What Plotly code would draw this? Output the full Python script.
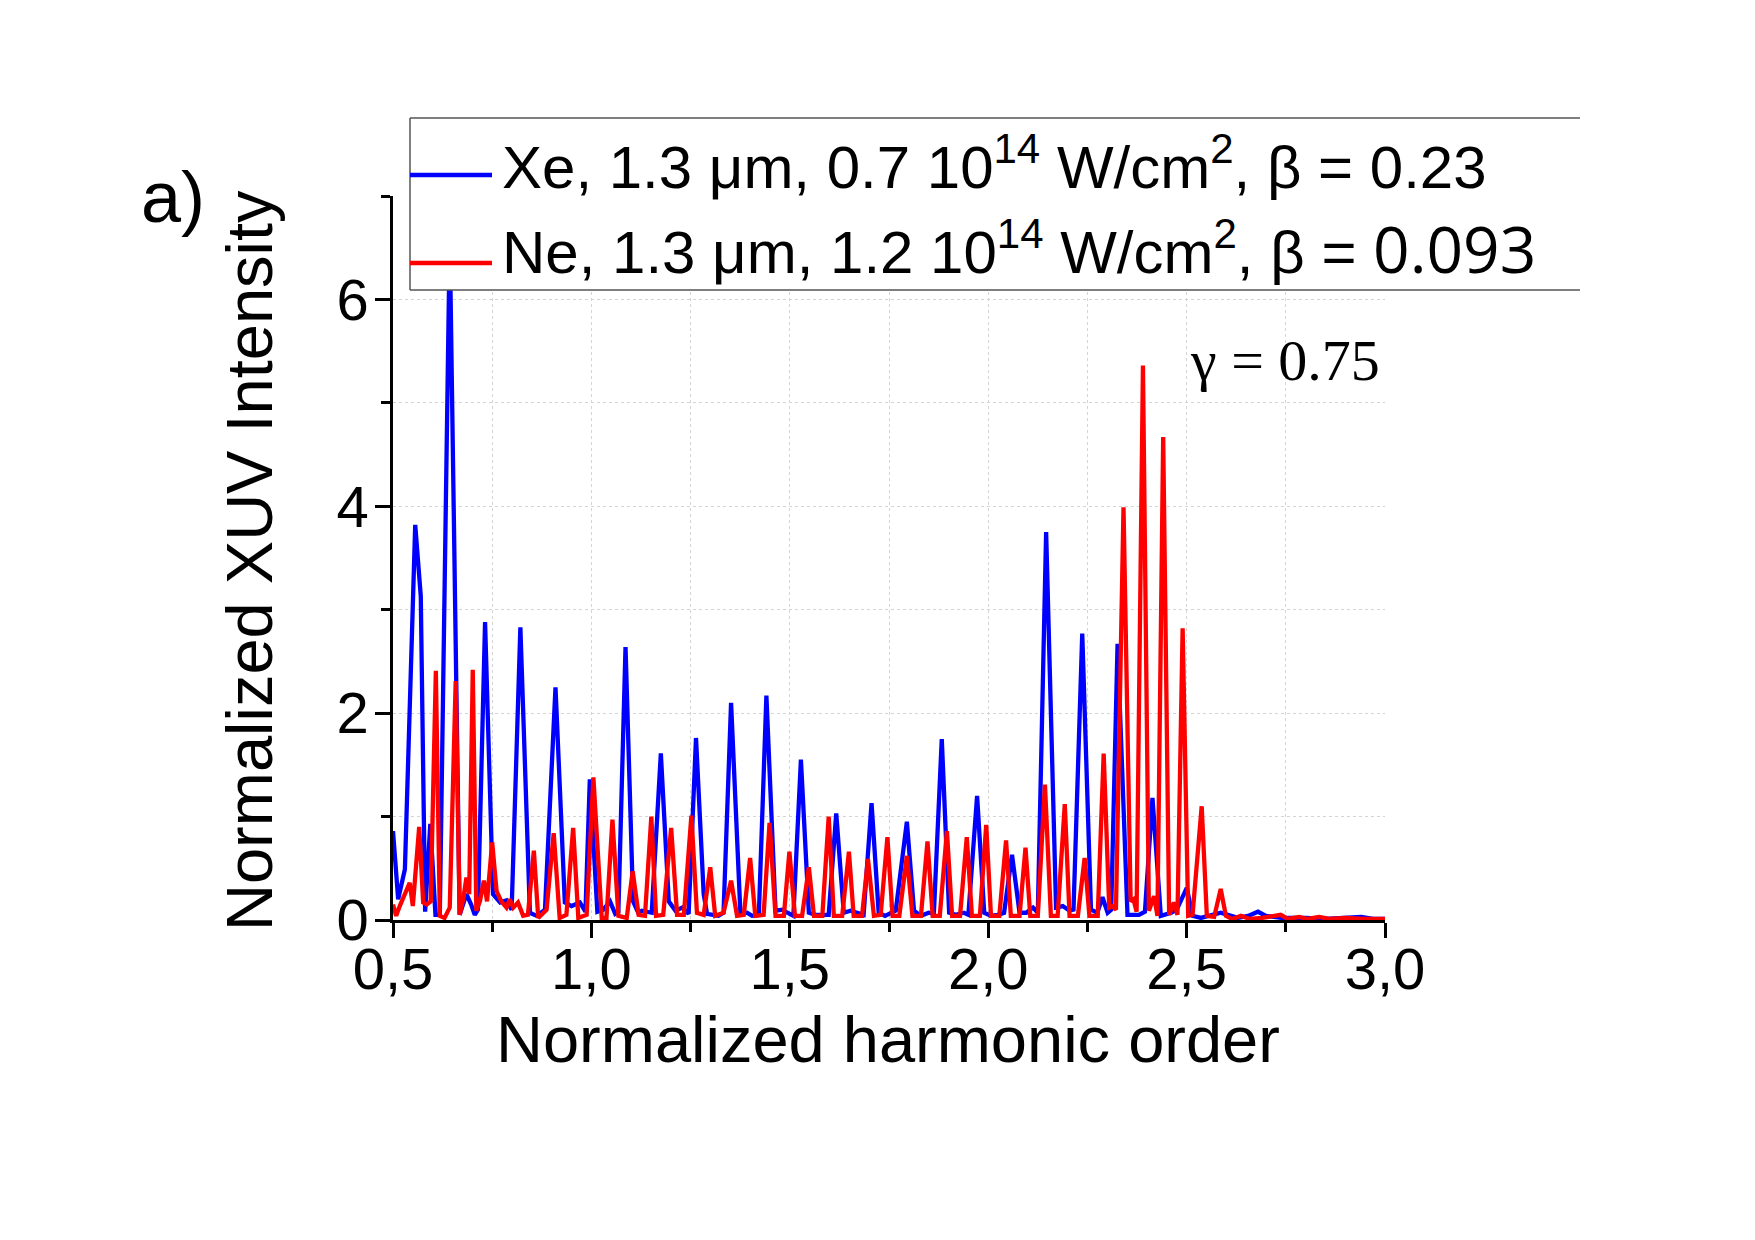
import plotly.graph_objects as go

# ---------------- data ----------------
xe_x = [0.500, 0.513, 0.530, 0.547, 0.556, 0.570, 0.581, 0.594, 0.607, 0.618, 0.643, 0.668, 0.685, 0.697,
        0.706, 0.714, 0.732, 0.752, 0.770, 0.786, 0.799, 0.821, 0.845, 0.862, 0.883, 0.9095, 0.933, 0.950,
        0.971, 0.985, 0.996, 1.015, 1.030, 1.047, 1.060, 1.068, 1.086, 1.105, 1.118, 1.127, 1.152, 1.175,
        1.195, 1.212, 1.229, 1.245, 1.2636, 1.283, 1.2915, 1.320, 1.333, 1.352, 1.3755, 1.392, 1.405, 1.422,
        1.441, 1.464, 1.4817, 1.494, 1.509, 1.528, 1.548, 1.565, 1.577, 1.598, 1.617, 1.636, 1.653, 1.670,
        1.686, 1.706, 1.724, 1.740, 1.767, 1.795, 1.813, 1.8305, 1.850, 1.863, 1.883, 1.9016, 1.918, 1.939,
        1.950, 1.972, 1.990, 2.007, 2.024, 2.040, 2.060, 2.079, 2.096, 2.113, 2.125, 2.146, 2.171, 2.188,
        2.205, 2.215, 2.237, 2.259, 2.275, 2.288, 2.301, 2.310, 2.326, 2.351, 2.380, 2.395, 2.414, 2.435,
        2.461, 2.475, 2.5005, 2.515, 2.536, 2.586, 2.629, 2.655, 2.680, 2.700, 2.740, 2.800, 2.850, 2.940,
        2.970, 3.000]
xe_y = [0.86, 0.20, 0.49, 2.62, 3.82, 3.13, 0.08, 0.93, 0.05, 0.05, 6.60, 0.05, 0.25, 0.15,
        0.05, 0.10, 2.88, 0.25, 0.17, 0.19, 0.10, 2.83, 0.07, 0.04, 0.10, 2.25, 0.17, 0.135,
        0.17, 0.08, 1.36, 0.08, 0.10, 0.18, 0.06, 0.08, 2.64, 0.18, 0.07, 0.09, 0.07, 1.61,
        0.18, 0.09, 0.12, 0.06, 1.76, 0.25, 0.06, 0.04, 0.07, 2.10, 0.07, 0.07, 0.04, 0.05,
        2.17, 0.09, 0.10, 0.07, 0.04, 1.55, 0.07, 0.05, 0.05, 0.05, 1.03, 0.07, 0.09, 0.07,
        0.05, 1.13, 0.07, 0.04, 0.09, 0.95, 0.09, 0.04, 0.07, 0.06, 1.75, 0.07, 0.05, 0.07,
        0.05, 1.20, 0.07, 0.04, 0.05, 0.07, 0.63, 0.07, 0.07, 0.12, 0.07, 3.75, 0.12, 0.135,
        0.09, 0.10, 2.77, 0.10, 0.07, 0.22, 0.07, 0.10, 2.67, 0.05, 0.05, 0.08, 1.18, 0.04,
        0.07, 0.10, 0.31, 0.04, 0.02, 0.07, 0.02, 0.04, 0.08, 0.04, 0.02, 0.02, 0.01, 0.03,
        0.01, 0.01]

ne_x = [0.500, 0.508, 0.517, 0.534, 0.542, 0.550, 0.566, 0.576, 0.585, 0.595, 0.608, 0.618, 0.630, 0.643,
        0.658, 0.668, 0.677, 0.685, 0.692, 0.701, 0.710, 0.719, 0.729, 0.737, 0.750, 0.761, 0.773, 0.786,
        0.794, 0.803, 0.815, 0.828, 0.840, 0.855, 0.866, 0.887, 0.905, 0.920, 0.937, 0.954, 0.967, 0.988,
        1.005, 1.026, 1.038, 1.053, 1.068, 1.089, 1.104, 1.119, 1.135, 1.151, 1.163, 1.181, 1.201, 1.216,
        1.233, 1.252, 1.266, 1.283, 1.2995, 1.312, 1.333, 1.352, 1.367, 1.384, 1.400, 1.413, 1.434, 1.449,
        1.464, 1.485, 1.499, 1.513, 1.531, 1.548, 1.561, 1.582, 1.598, 1.611, 1.632, 1.649, 1.661, 1.682,
        1.697, 1.712, 1.729, 1.746, 1.759, 1.776, 1.795, 1.809, 1.8305, 1.847, 1.860, 1.878, 1.896, 1.909,
        1.929, 1.946, 1.959, 1.979, 1.995, 2.007, 2.028, 2.045, 2.057, 2.079, 2.094, 2.106, 2.125, 2.143,
        2.158, 2.175, 2.193, 2.205, 2.226, 2.243, 2.255, 2.276, 2.291, 2.305, 2.313, 2.322, 2.341, 2.359,
        2.366, 2.374, 2.390, 2.405, 2.418, 2.4265, 2.441, 2.456, 2.468, 2.477, 2.490, 2.504, 2.515, 2.538,
        2.551, 2.5695, 2.586, 2.599, 2.615, 2.637, 2.660, 2.690, 2.737, 2.755, 2.784, 2.805, 2.834, 2.860,
        2.900, 2.950, 3.000]
ne_y = [0.15, 0.04, 0.135, 0.28, 0.36, 0.135, 0.90, 0.17, 0.15, 0.18, 2.41, 0.04, 0.02, 0.12,
        2.31, 0.05, 0.20, 0.41, 0.25, 2.42, 0.09, 0.18, 0.38, 0.18, 0.75, 0.28, 0.18, 0.12,
        0.20, 0.12, 0.17, 0.04, 0.05, 0.67, 0.02, 0.10, 0.84, 0.02, 0.05, 0.89, 0.02, 0.05,
        1.38, 0.02, 0.02, 0.97, 0.04, 0.02, 0.47, 0.05, 0.04, 1.00, 0.04, 0.05, 0.89, 0.05,
        0.05, 1.01, 0.07, 0.05, 0.51, 0.04, 0.07, 0.38, 0.04, 0.05, 0.60, 0.04, 0.05, 0.94,
        0.04, 0.04, 0.66, 0.04, 0.04, 0.51, 0.04, 0.04, 1.00, 0.04, 0.04, 0.66, 0.04, 0.04,
        0.59, 0.04, 0.05, 0.80, 0.04, 0.04, 0.62, 0.04, 0.04, 0.76, 0.04, 0.04, 0.86, 0.04,
        0.04, 0.80, 0.04, 0.04, 0.92, 0.04, 0.04, 0.77, 0.04, 0.04, 0.70, 0.04, 0.04, 1.31,
        0.04, 0.04, 1.12, 0.04, 0.04, 0.60, 0.04, 0.04, 1.61, 0.12, 0.135, 0.10, 3.99, 0.18,
        0.20, 0.08, 5.36, 0.09, 0.23, 0.04, 4.67, 0.05, 0.17, 0.05, 2.82, 0.04, 0.05, 1.10,
        0.04, 0.03, 0.30, 0.04, 0.01, 0.04, 0.01, 0.02, 0.05, 0.01, 0.03, 0.01, 0.03, 0.01,
        0.02, 0.01, 0.01]

xe_name = "Xe, 1.3 \u03bcm, 0.7 10<sup>14</sup> W/cm<sup>2</sup>, \u03b2 = 0.23"
ne_name = ("Ne, 1.3 \u03bcm, 1.2 10<sup>14</sup> W/cm<sup>2</sup>, \u03b2 = "
           "<span style='font-family:\"Open Sans\";font-size:64px'>0.093</span>")
x_tickvals = [0.5, 1.0, 1.5, 2.0, 2.5, 3.0]
x_ticktext = ["0,5", "1,0", "1,5", "2,0", "2,5", "3,0"]
y_tickvals = [0, 2, 4, 6]
y_ticktext = ["0", "2", "4", "6"]

# ---------------- layout geometry (pixels) ----------------
W, H = 1755, 1240
L, R, T, B = 393, 1385, 196, 920


def px(xp):
    return (xp - L) / (R - L)


def py(yp):
    return (B - yp) / (B - T)


SANS = "Liberation Sans, Arial, sans-serif"
SERIF = "Liberation Serif, Times New Roman, serif"
GRID = "#d4d4d4"
LW = 4.3

fig = go.Figure()
fig.add_trace(go.Scatter(x=xe_x, y=xe_y, mode="lines", name=xe_name,
                         line=dict(color="#0000ff", width=LW), showlegend=False))
fig.add_trace(go.Scatter(x=ne_x, y=ne_y, mode="lines", name=ne_name,
                         line=dict(color="#ff0000", width=LW), showlegend=False))

fig.update_layout(
    width=W, height=H,
    margin=dict(l=L, r=W - R, t=T, b=H - B, pad=0),
    paper_bgcolor="white", plot_bgcolor="white",
    font=dict(family=SANS, color="black"),
    xaxis=dict(range=[0.5, 3.0], tickmode="array", tickvals=x_tickvals, ticktext=x_ticktext,
               ticks="outside", ticklen=15, tickwidth=2.5, tickcolor="black",
               showline=True, linecolor="black", linewidth=2.5,
               showgrid=True, gridcolor=GRID, griddash="dot", gridwidth=1.2,
               zeroline=False, tickfont=dict(size=58, family=SANS),
               ticklabelstandoff=-18,
               minor=dict(tickmode="linear", tick0=0.5, dtick=0.25, ticks="outside", ticklen=9,
                          tickwidth=2.5, tickcolor="black", showgrid=True, gridcolor=GRID,
                          griddash="dot", gridwidth=1.2)),
    yaxis=dict(range=[0, 7], tickmode="array", tickvals=y_tickvals, ticktext=y_ticktext,
               ticks="outside", ticklen=15, tickwidth=2.5, tickcolor="black",
               showline=True, linecolor="black", linewidth=2.5,
               showgrid=True, gridcolor=GRID, griddash="dot", gridwidth=1.2,
               zeroline=False, tickfont=dict(size=58, family=SANS),
               ticklabelstandoff=-5,
               minor=dict(tickmode="linear", tick0=0, dtick=1, ticks="outside", ticklen=9,
                          tickwidth=2.5, tickcolor="black", showgrid=True, gridcolor=GRID,
                          griddash="dot", gridwidth=1.2)),
    showlegend=False,
)

# ---------------- hand-made legend box ----------------
LX0, LX1, LY0, LY1 = 410, 1580, 118, 290
shapes = [
    dict(type="rect", xref="paper", yref="paper", x0=px(LX0), x1=px(LX1), y0=py(LY1), y1=py(LY0),
         fillcolor="white", line=dict(width=0), layer="above"),
    dict(type="line", xref="paper", yref="paper", x0=px(LX0), x1=px(LX1), y0=py(LY0), y1=py(LY0),
         line=dict(color="#555555", width=1.5), layer="above"),
    dict(type="line", xref="paper", yref="paper", x0=px(LX0), x1=px(LX1), y0=py(LY1), y1=py(LY1),
         line=dict(color="#555555", width=1.5), layer="above"),
    dict(type="line", xref="paper", yref="paper", x0=px(LX0), x1=px(LX0), y0=py(LY1), y1=py(LY0),
         line=dict(color="#555555", width=1.5), layer="above"),
    dict(type="line", xref="paper", yref="paper", x0=px(LX0), x1=px(492), y0=py(175), y1=py(175),
         line=dict(color="#0000ff", width=LW), layer="above"),
    dict(type="line", xref="paper", yref="paper", x0=px(LX0), x1=px(492), y0=py(263), y1=py(263),
         line=dict(color="#ff0000", width=LW), layer="above"),
]
fig.update_layout(shapes=shapes)

annotations = [
    dict(text=xe_name, xref="paper", yref="paper", x=px(500), y=py(203), xanchor="left",
         yanchor="bottom", showarrow=False, font=dict(size=60, family=SANS)),
    dict(text=ne_name, xref="paper", yref="paper", x=px(500), y=py(294), xanchor="left",
         yanchor="bottom", showarrow=False, font=dict(size=60, family=SANS)),
    dict(text="\u03b3 = 0.75", xref="paper", yref="paper", x=px(1188), y=py(360), xanchor="left",
         yanchor="middle", showarrow=False, font=dict(size=58, family=SERIF)),
    dict(text="a)", xref="paper", yref="paper", x=px(173), y=py(197), xanchor="center",
         yanchor="middle", showarrow=False, font=dict(size=72, family=SANS)),
    dict(text="Normalized XUV Intensity", xref="paper", yref="paper", x=px(249), y=py(561),
         xanchor="center", yanchor="middle", textangle=-90, showarrow=False,
         font=dict(size=65, family=SANS)),
    dict(text="Normalized harmonic order", xref="paper", yref="paper", x=px(888), y=py(1039),
         xanchor="center", yanchor="middle", showarrow=False, font=dict(size=65, family=SANS)),
]
fig.update_layout(annotations=annotations)

fig.write_html("out.html", config={"displayModeBar": False})
